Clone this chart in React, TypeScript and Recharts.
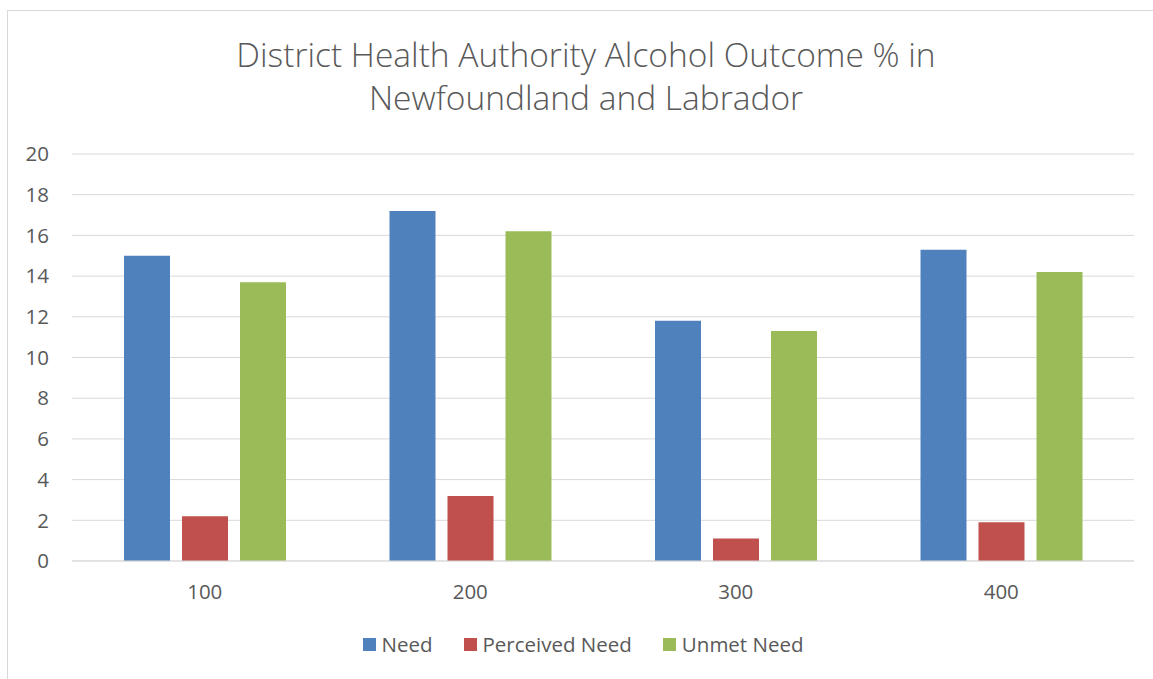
import { BarChart, Bar, XAxis, YAxis, CartesianGrid, Legend } from 'recharts';

// District codes along the x axis
const districts = ['100', '200', '300', '400'];

// Outcome percentages per district
const need = [15.0, 17.2, 11.8, 15.3];
const perceivedNeed = [2.2, 3.2, 1.1, 1.9];
const unmetNeed = [13.7, 16.2, 11.3, 14.2];

const yTicks = [0, 2, 4, 6, 8, 10, 12, 14, 16, 18, 20];

const SERIES = [
  { key: 'need', label: 'Need', color: '#4f81bd' },
  { key: 'perceived', label: 'Perceived Need', color: '#c0504d' },
  { key: 'unmet', label: 'Unmet Need', color: '#9bbb59' },
];

const FONT = '"Open Sans", "Noto Sans", sans-serif';
const TEXT = '#595959';

const data = districts.map((d, i) => ({
  district: d,
  need: need[i],
  perceived: perceivedNeed[i],
  unmet: unmetNeed[i],
}));

function LegendRow(props: any) {
  const items = props.payload || [];
  return (
    <div style={{ display: 'flex', justifyContent: 'center', gap: 31, fontFamily: FONT, fontSize: 20.5, color: TEXT, lineHeight: '24px' }}>
      {items.map((it: any) => (
        <div key={it.value} style={{ display: 'flex', alignItems: 'center' }}>
          <span style={{ width: 13, height: 13, background: it.color, display: 'inline-block', marginRight: 6 }} />
          <span>{it.value}</span>
        </div>
      ))}
    </div>
  );
}

export default function App() {
  return (
    <div
      style={{
        position: 'absolute', left: 7, top: 10, width: 1160, height: 680,
        border: '1px solid #d9d9d9', background: '#fff', boxSizing: 'border-box',
      }}
    >
      <div
        style={{
          position: 'absolute', left: 0, top: 22, width: 1156, textAlign: 'center',
          fontFamily: FONT, fontSize: 33.5, lineHeight: '43px', color: TEXT, fontWeight: 300,
        }}
      >
        District Health Authority Alcohol Outcome % in<br />Newfoundland and Labrador
      </div>
      <BarChart
        width={1150}
        height={670}
        data={data}
        margin={{ top: 143, right: 24, bottom: 66, left: 14 }}
        barCategoryGap="19.5%"
        barGap={12}
      >
        <CartesianGrid vertical={false} stroke="#d9d9d9" />
        <XAxis
          dataKey="district"
          axisLine={{ stroke: '#d9d9d9' }}
          tickLine={false}
          tickMargin={17}
          height={30}
          tick={{ fill: TEXT, fontSize: 20.5, fontFamily: FONT }}
        />
        <YAxis
          domain={[0, 20]}
          ticks={yTicks}
          axisLine={false}
          tickLine={false}
          tickMargin={17}
          width={50}
          tick={{ fill: TEXT, fontSize: 20.5, fontFamily: FONT }}
        />
        <Legend
          content={LegendRow}
          wrapperStyle={{ top: 621, left: 0, width: 1150 }}
        />
        {SERIES.map(s => (
          <Bar
            key={s.key}
            dataKey={s.key}
            name={s.label}
            fill={s.color}
            barSize={46}
            isAnimationActive={false}
          />
        ))}
      </BarChart>
    </div>
  );
}
